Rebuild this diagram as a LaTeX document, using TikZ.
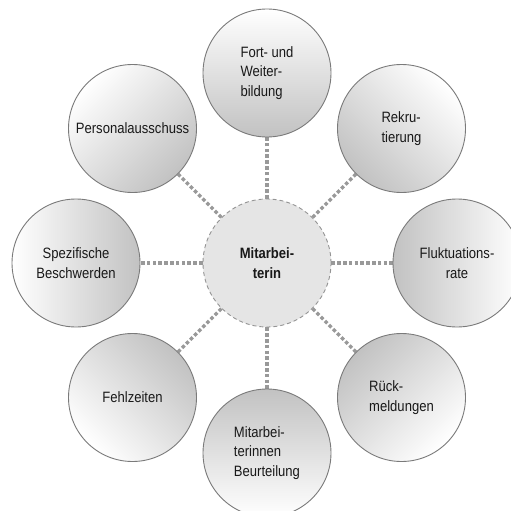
\documentclass[tikz,border=0pt]{standalone}
\usepackage{fontspec}
\setmainfont{Liberation Sans}[FakeStretch=0.87]
\usetikzlibrary{backgrounds}
\begin{document}
\begin{tikzpicture}[x=1pt,y=-1pt,
  txt/.style={font=\fontsize{15}{19.3}\selectfont, text=black!90},
  sat/.style={circle, draw=black!52, line width=0.9pt, minimum size=128pt, inner sep=0pt,
    top color=white, bottom color=black!24, txt},
  hub/.style={circle, draw=black!42, dash pattern=on 4pt off 3pt, line width=0.9pt,
    fill=black!10, minimum size=128pt, inner sep=0pt, txt},
  link/.style={draw=black!40, line width=3.5pt, dash pattern=on 3.5pt off 2.3pt}]
\useasboundingbox (0,0) rectangle (511,511);
\node[hub, align=center, font=\fontsize{15}{19.3}\selectfont\bfseries] (c) at (267,263) {Mitarbei-\\terin};
\node[sat, align=left, shading angle=0] (t) at (267,73) {Fort- und\\Weiter-\\bildung};
\node[sat, align=left, shading angle=-45] (tr) at (401.5,128.5) {Rekru-\\tierung};
\node[sat, align=center, shading angle=-90] (r) at (457,263) {Fluktuations-\\rate};
\node[sat, align=left, shading angle=-135] (br) at (401.5,397.5) {Rück-\\meldungen};
\node[sat, align=left, shading angle=180] (b) at (267,453) {Mitarbei-\\terinnen\\Beurteilung};
\node[sat, align=center, shading angle=135] (bl) at (132.5,397.5) {Fehlzeiten};
\node[sat, align=center, shading angle=90] (l) at (76,263) {Spezifische\\Beschwerden};
\node[sat, align=center, shading angle=45] (tl) at (132.5,128.5) {Personalausschuss};
\begin{scope}[on background layer]
\foreach \s in {t,tr,r,br,b,bl,l,tl}{\path[link] (c) -- (\s);}
\end{scope}
\end{tikzpicture}
\end{document}
